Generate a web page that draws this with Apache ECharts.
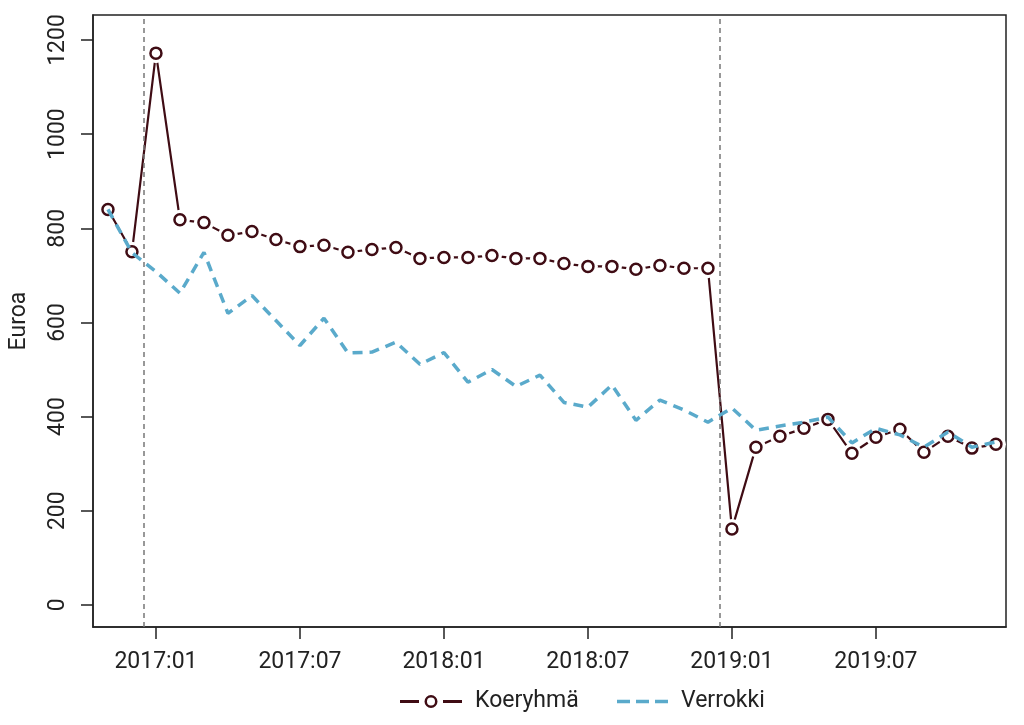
<!DOCTYPE html>
<html>
<head>
<meta charset="utf-8">
<script src="https://cdn.jsdelivr.net/npm/echarts@6/dist/echarts.min.js"></script>
<style>
html,body{margin:0;padding:0;background:#fff;}
#chart{width:1024px;height:725px;}
</style>
</head>
<body>
<div id="chart"></div>
<script>
// Months 2016:11 .. 2019:12
const months = ['2016:11','2016:12',
 '2017:01','2017:02','2017:03','2017:04','2017:05','2017:06','2017:07','2017:08','2017:09','2017:10','2017:11','2017:12',
 '2018:01','2018:02','2018:03','2018:04','2018:05','2018:06','2018:07','2018:08','2018:09','2018:10','2018:11','2018:12',
 '2019:01','2019:02','2019:03','2019:04','2019:05','2019:06','2019:07','2019:08','2019:09','2019:10','2019:11','2019:12'];
const koeryhma = [840,750,1172,818,812,785,793,776,761,764,749,755,759,736,738,738,742,736,736,725,719,719,713,721,715,715,
 161,335,358,375,394,322,356,373,324,358,333,341];
const verrokki = [840,748,708,662,749,619,657,604,551,609,535,537,558,511,536,473,500,464,488,430,420,467,392,435,414,388,
 418,371,380,388,399,344,375,361,335,367,335,346];
const xTickLabels = ['2017:01','2017:07','2018:01','2018:07','2019:01','2019:07'];
const yTicks = [0,200,400,600,800,1000,1200];
const interventionLines = [1.5, 25.5]; // between 2016:12/2017:01 and 2018:12/2019:01

const xTickValues = xTickLabels.map(l => months.indexOf(l));
const kData = koeryhma.map((v,i)=>[i,v]);
const vData = verrokki.map((v,i)=>[i,v]);

const dark = '#3f0c14';
const blue = '#5aaacb';
const font = 'Roboto';
const txt = '#222';
const fs = 23;

const koeIcon = 'path://M0,-1.6h19v3.2h-19z M43,-1.6h19v3.2h-19z ' +
  'M24.5,0a6.5,6.5 0 1,0 13,0a6.5,6.5 0 1,0 -13,0z M27,0a4,4 0 1,1 8,0a4,4 0 1,1 -8,0z';
const verIcon = 'path://M0,0h13v3.5h-13z M19,0h13v3.5h-13z M38,0h13v3.5h-13z';

const chart = echarts.init(document.getElementById('chart'), null, {renderer:'canvas'});
chart.setOption({
  animation:false,
  backgroundColor:'#fff',
  textStyle:{fontFamily:font},
  grid:{left:90, right:18, top:15, bottom:98, show:true, borderColor:txt, borderWidth:1.5, backgroundColor:'transparent'},
  legend:[
    {data:[{name:'Koeryhmä', icon:koeIcon, itemStyle:{color:dark, borderWidth:0}}],
     left:395, top:685, itemWidth:62, itemHeight:13,
     textStyle:{fontFamily:font, fontSize:fs, color:txt, padding:[0,0,0,8]}},
    {data:[{name:'Verrokki', icon:verIcon, itemStyle:{color:blue, borderWidth:0}}],
     left:612, top:685, itemWidth:51, itemHeight:3.5,
     textStyle:{fontFamily:font, fontSize:fs, color:txt, padding:[0,0,0,8]}}
  ],
  xAxis:{
    type:'value', min:-0.623, max:37.42,
    splitLine:{show:false},
    axisLine:{show:true, onZero:false, lineStyle:{color:txt, width:1.5}},
    axisTick:{show:true, length:12, customValues:xTickValues, lineStyle:{color:txt, width:1.5}},
    axisLabel:{customValues:xTickValues, margin:24, fontSize:fs, color:txt, fontFamily:font,
      formatter:v => months[Math.round(v)]}
  },
  yAxis:{
    type:'value', min:-47, max:1253,
    name:'Euroa', nameLocation:'middle', nameGap:62, nameRotate:90,
    nameTextStyle:{fontSize:fs, color:txt, fontFamily:font},
    splitLine:{show:false},
    axisLine:{show:true, onZero:false, lineStyle:{color:txt, width:1.5}},
    axisTick:{show:true, length:12, customValues:yTicks, lineStyle:{color:txt, width:1.5}},
    axisLabel:{customValues:yTicks, rotate:90, margin:23, fontSize:fs, color:txt, fontFamily:font,
      formatter:v => String(v)}
  },
  series:[
    {
      name:'Koeryhmä', type:'line', data:kData, z:2,
      symbol:'none',
      itemStyle:{color:dark},
      lineStyle:{color:dark, width:2.2},
      markLine:{silent:true, symbol:'none', label:{show:false},
        lineStyle:{color:'#777', type:[5,4], width:1.5},
        data:interventionLines.map(x=>({xAxis:x}))}
    },
    {
      name:'halo', type:'scatter', data:kData, z:3, silent:true,
      symbol:'circle', symbolSize:20, itemStyle:{color:'#fff', opacity:1}
    },
    {
      name:'markers', type:'scatter', data:kData, z:4, silent:true,
      symbol:'circle', symbolSize:11, itemStyle:{color:'#fff', borderColor:dark, borderWidth:2.5, opacity:1}
    },
    {
      name:'Verrokki', type:'line', data:vData, z:5, symbol:'none',
      itemStyle:{color:blue},
      lineStyle:{color:blue, width:3.5, type:[10,7]}
    }
  ]
});
</script>
</body>
</html>
